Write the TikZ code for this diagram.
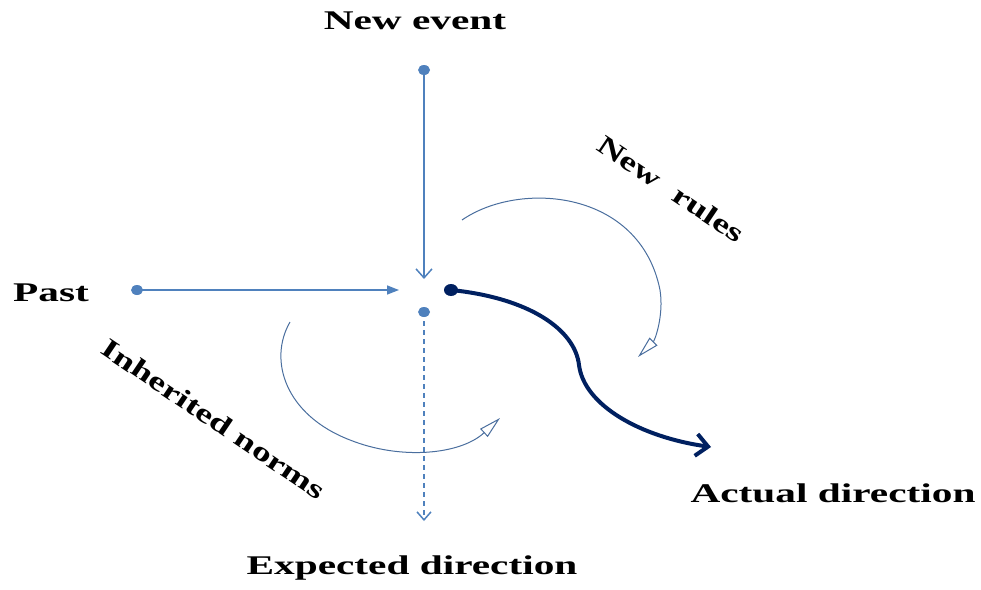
\documentclass[tikz,border=0pt]{standalone}
\usepackage{fontspec}
\setmainfont{Liberation Serif}
\usetikzlibrary{arrows.meta,shapes.geometric}
\definecolor{lblue}{HTML}{4F81BD}
\definecolor{navy}{HTML}{002060}
\definecolor{arcblue}{HTML}{4A6E9E}
\tikzset{
  lblfont/.style={font=\bfseries\fontsize{27}{30}\selectfont, inner sep=0pt},
  lbl/.style={lblfont, xscale=1.53},
  dot/.style={ellipse, fill=lblue, minimum width=12pt, minimum height=10pt, inner sep=0pt},
  darkdot/.style={ellipse, fill=navy, minimum width=14pt, minimum height=12pt, inner sep=0pt},
  bluearrow/.style={draw=lblue, line width=1.5pt},
  arcarrow/.style={draw=arcblue, line width=1pt, -{Triangle[open, length=22pt, width=11pt, fill=white]}},
}
\begin{document}
\begin{tikzpicture}[x=1pt,y=-1pt]
\useasboundingbox (0,0) rectangle (981,589);
% labels
\node[lbl] (newevent) at (415,21) {New event};
\node[lbl] (past) at (51,293) {Past};
\node[lbl] (expected) at (412,568) {Expected direction};
\node[lbl] (actual) at (833,493) {Actual direction};
\node[lblfont, rotate=-34, xscale=1.4] (newrules) at (671,189) {New\ \ rules};
\node[lblfont, rotate=-34, xscale=1.4] (inherited) at (214,419) {Inherited norms};
% dots
\node[dot] (top) at (424,70) {};
\node[dot] (left) at (137,290) {};
\node[dot] (below) at (424,312) {};
\node[darkdot] (start) at (451,290) {};
\coordinate (toptip) at (424,279);
\coordinate (lefttip) at (399,290);
\coordinate (downtip) at (424,521);
\coordinate (actualtip) at (711,447);
% straight arrows
\draw[bluearrow, -{Straight Barb[length=9pt, width=16pt]}] (top.center) -- (toptip);
\draw[bluearrow, -{Triangle[length=12pt, width=9pt]}] (left.center) -- (lefttip);
\draw[bluearrow, dashed, dash pattern=on 5pt off 4pt, -{Straight Barb[length=8pt, width=14pt, line width=1.5pt]}] (below.center) -- (downtip);
% actual direction curve
\draw[navy, line width=4pt, line cap=round, -{Straight Barb[length=12pt, width=22pt]}]
  (start.center) .. controls (530,298) and (575,330) .. (579,365)
  .. controls (584,405) and (640,437) .. (actualtip);
% arcs
\draw[arcarrow] (462,220) .. controls (520,180) and (640,190) .. (660,290)
  .. controls (664,315) and (655,340) .. (638,357);
\draw[arcarrow] (290,322) .. controls (268,360) and (285,415) .. (350,440)
  .. controls (400,460) and (460,455) .. (500,418);
\end{tikzpicture}
\end{document}
